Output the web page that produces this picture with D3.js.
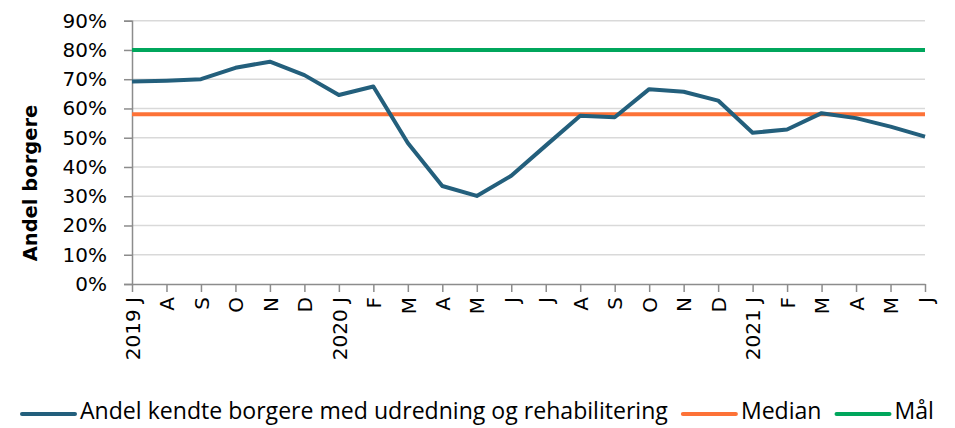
<!DOCTYPE html>
<html>
<head>
<meta charset="utf-8">
<script src="https://cdn.jsdelivr.net/npm/d3@7"></script>
<style>
  body { margin: 0; background: #fff; }
  svg { font-family: "DejaVu Sans", sans-serif; }
</style>
</head>
<body>
<div id="chart"></div>
<script>
// x categories (Jul 2019 - Jun 2021)
var months = ["2019 J", "A", "S", "O", "N", "D", "2020 J", "F", "M", "A", "M", "J",
  "J", "A", "S", "O", "N", "D", "2021 J", "F", "M", "A", "M", "J"];
var andel = [69.2, 69.5, 70.0, 73.9, 76.0, 71.4, 64.6, 67.5, 48.2, 33.5, 30.1, 37.0,
  47.3, 57.5, 57.0, 66.6, 65.7, 62.7, 51.7, 52.8, 58.4, 56.7, 53.8, 50.4];
var median = 58;
var maal = 80;
var yTicks = [0, 10, 20, 30, 40, 50, 60, 70, 80, 90];

var seriesNames = ["Andel kendte borgere med udredning og rehabilitering", "Median", "Mål"];
var colors = ["#235f7c", "#fd7237", "#00a65c"];

var width = 955, height = 428;
var plotLeft = 132, plotRight = 925, plotTop = 20.7, plotBottom = 284;

var svg = d3.select("#chart").append("svg")
  .attr("width", width)
  .attr("height", height)

// keys so repeated month letters stay distinct
var keys = months.map(function(d, i) { return i; });

var x = d3.scalePoint()
  .domain(keys)
  .range([plotLeft, plotRight])
  .padding(0)

var y = d3.scaleLinear()
  .domain([0, 90])
  .range([plotBottom, plotTop])

// gridlines
svg.append("g")
  .selectAll("line")
  .data(yTicks.slice(1))
  .enter()
    .append("line")
    .attr("x1", plotLeft)
    .attr("x2", plotRight)
    .attr("y1", function(d) { return y(d); })
    .attr("y2", function(d) { return y(d); })
    .attr("stroke", "#d9d9d9")
    .attr("stroke-width", 1.5)

// y axis
var yAxis = svg.append("g")
  .attr("transform", "translate(" + plotLeft + ",0)")
  .call(d3.axisLeft(y).tickValues(yTicks).tickSize(8).tickPadding(17)
    .tickFormat(function(d) { return d + "%"; }))
yAxis.select(".domain").attr("stroke", "#8c8c8c").attr("stroke-width", 1.5)
yAxis.selectAll(".tick line").attr("stroke", "#8c8c8c").attr("stroke-width", 1.5)
yAxis.selectAll("text")
  .attr("font-size", "20px")
  .attr("fill", "#000")
  .attr("font-family", "DejaVu Sans")

// x axis
var xAxis = svg.append("g")
  .attr("transform", "translate(0," + plotBottom + ")")
  .call(d3.axisBottom(x).tickSize(8).tickSizeOuter(0)
    .tickFormat(function(d) { return months[d]; }))
xAxis.select(".domain").attr("stroke", "#8c8c8c").attr("stroke-width", 1.5)
xAxis.selectAll(".tick line").attr("stroke", "#8c8c8c").attr("stroke-width", 1.5)
xAxis.selectAll("text")
  .attr("font-size", "20px")
  .attr("fill", "#000")
  .attr("font-family", "DejaVu Sans")
  .attr("text-anchor", "end")
  .attr("transform", "rotate(-90)")
  .attr("x", -13)
  .attr("y", 0)
  .attr("dy", "0.36em")

// y title
svg.append("text")
  .attr("transform", "translate(37,183) rotate(-90)")
  .attr("text-anchor", "middle")
  .attr("font-size", "19.5px")
  .attr("font-weight", "bold")
  .attr("fill", "#000")
  .text("Andel borgere")

// reference lines
var line = d3.line()
  .x(function(d, i) { return x(i); })
  .y(function(d) { return y(d); })

svg.append("path")
  .datum(keys.map(function() { return maal; }))
  .attr("fill", "none")
  .attr("stroke", colors[2])
  .attr("stroke-width", 4)
  .attr("d", line)

svg.append("path")
  .datum(keys.map(function() { return median; }))
  .attr("fill", "none")
  .attr("stroke", colors[1])
  .attr("stroke-width", 4)
  .attr("d", line)

svg.append("path")
  .datum(andel)
  .attr("fill", "none")
  .attr("stroke", colors[0])
  .attr("stroke-width", 4)
  .attr("stroke-linejoin", "round")
  .attr("d", line)

// legend, long label fitted to the width it has in the original (~588px)
var legend = svg.append("g")
  .attr("font-family", "'Open Sans', sans-serif")

var probe = legend.append("text").attr("font-size", "22px").text(seriesNames[0])
var legendSize = Math.min(24, 22 * 588 / probe.node().getComputedTextLength())
probe.remove()

var lx = 22;
seriesNames.forEach(function(name, i) {
  var item = legend.append("g").attr("transform", "translate(" + lx + ",414)")
  item.append("line")
    .attr("x1", 0)
    .attr("x2", 53)
    .attr("stroke", colors[i])
    .attr("stroke-width", 4)
    .attr("stroke-linecap", "round")
  var t = item.append("text")
    .attr("x", 58)
    .attr("y", 5)
    .attr("font-size", legendSize + "px")
    .attr("fill", "#000")
    .text(name)
  lx += 58 + t.node().getComputedTextLength() + 15;
})
</script>
</body>
</html>
